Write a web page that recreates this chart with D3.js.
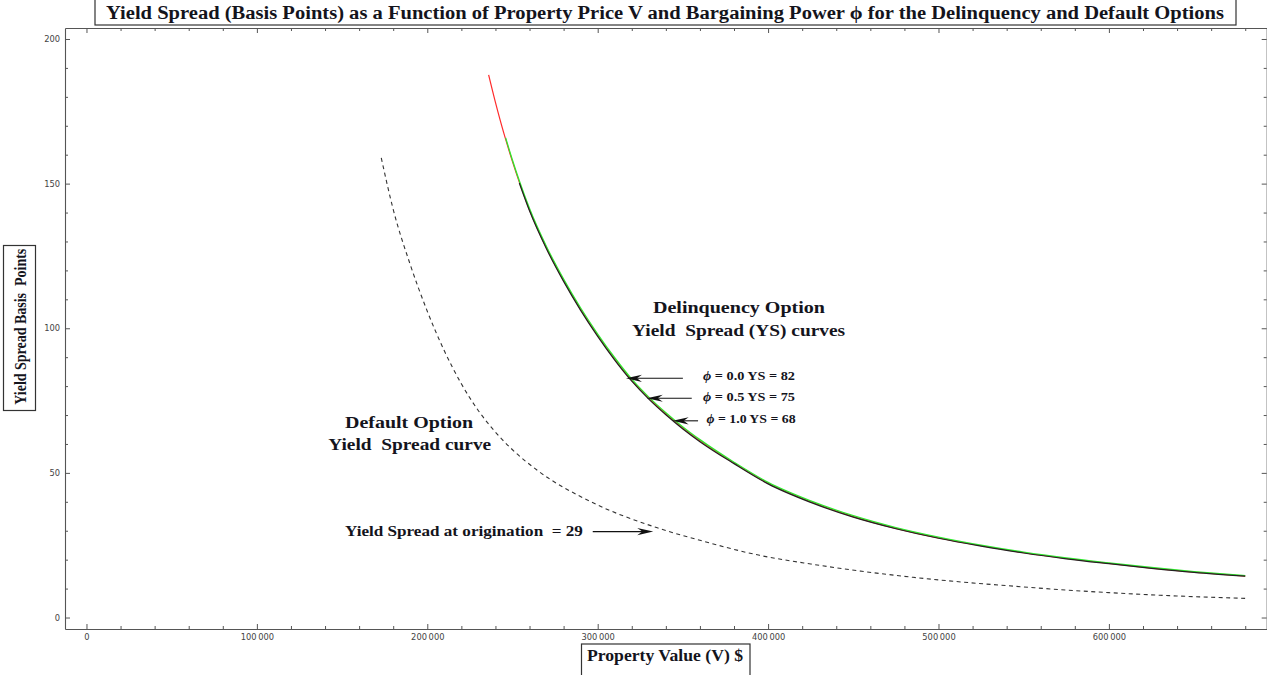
<!DOCTYPE html>
<html><head><meta charset="utf-8">
<script src="https://cdn.jsdelivr.net/npm/d3@7"></script>
<style>body{margin:0;background:#fff}svg{display:block}</style>
</head><body>
<svg id="chart" width="1267" height="675"></svg>
<script>
// ---------- data ----------
const xMajorTicks = [0, 100000, 200000, 300000, 400000, 500000, 600000];
const xTickLabels = ["0", "100\u2009000", "200\u2009000", "300\u2009000", "400\u2009000", "500\u2009000", "600\u2009000"];
const yMajorTicks = [0, 50, 100, 150, 200];
const yTickLabels = ["0", "50", "100", "150", "200"];

// Delinquency option curves (property value in $)
const propertyValue = [236000, 240000, 245000, 246000, 250000, 254000, 260000, 270000, 280000, 290000,
  300000, 310000, 320000, 330000, 340000, 350000, 360000, 380000, 400000, 425000,
  450000, 475000, 500000, 525000, 550000, 575000, 600000, 625000, 650000, 680000];
const ysPhi00 = [187.6, 178.1, 167.3, 165.3, 157.6, 150.5, 140.9, 127.7, 116.5, 106.5,
  97.5, 89.3, 82.0, 75.8, 70.4, 65.5, 61.1, 53.4, 46.4, 40.0,
  34.9, 30.8, 27.5, 24.8, 22.4, 20.4, 18.7, 17.1, 15.7, 14.3];
const ysPhi05 = [null, null, null, 165.8, 158.1, 151.0, 141.4, 128.2, 117.0, 107.0,
  98.0, 89.8, 82.4, 76.2, 70.8, 65.9, 61.5, 53.7, 46.7, 40.3,
  35.2, 31.1, 27.8, 25.0, 22.6, 20.6, 18.9, 17.3, 15.9, 14.5];
const ysPhi10 = [null, null, null, null, null, 150.2, 140.6, 127.4, 116.2, 106.2,
  97.2, 89.0, 81.7, 75.5, 70.1, 65.2, 60.8, 53.2, 46.2, 39.8,
  34.7, 30.7, 27.4, 24.7, 22.3, 20.3, 18.6, 17.0, 15.6, 14.3];

// Default option curve
const defaultValue = [173000, 180000, 190000, 200000, 210000, 220000, 230000, 240000, 250000, 265000,
  295000, 335000, 360000, 395000, 425000, 455000, 485000, 515000, 545000, 575000,
  600000, 630000, 680000];
const ysDefault = [158.9, 141.1, 122.0, 105.9, 92.2, 80.8, 71.5, 64.1, 58.0, 50.7,
  40.3, 31.0, 26.7, 21.5, 18.5, 16.0, 13.9, 12.2, 10.8, 9.5,
  8.6, 7.7, 6.6];

// annotations (data coordinates)
const titleText = "Yield Spread (Basis Points) as a Function of Property Price V and Bargaining Power \u03d5 for the Delinquency and Default Options";
const xLabelText = "Property Value (V) $";
const yLabelText = "Yield Spread Basis  Points";
const blockLabels = [
  {v: 382900, y: 107.2, text: "Delinquency Option", w: 172},
  {v: 382700, y: 99.4, text: "Yield  Spread (YS) curves", w: 213},
  {v: 189300, y: 67.7, text: "Default Option", w: 128},
  {v: 189700, y: 59.9, text: "Yield  Spread curve", w: 163}
];
const phiLabels = [
  {v: 388800, y: 83.5, phi: "0.0", ys: "82", w: 92},
  {v: 388800, y: 76.3, phi: "0.5", ys: "75", w: 92},
  {v: 390000, y: 68.8, phi: "1.0", ys: "68", w: 89}
];
const arrows = [
  {from: 350000, to: 316600, y: 82.7},
  {from: 355200, to: 328800, y: 75.8},
  {from: 358900, to: 344000, y: 68.0},
  {from: 297100, to: 332600, y: 29.7}
];
const originationLabel = {v: 221500, y: 30.0, text: "Yield Spread at origination  = 29", w: 238};

// ---------- drawing ----------
const svg = d3.select("#chart");
const L = 65, R = 1266.7, T = 28, B = 629;
const x = d3.scaleLinear().domain([-12600, 692600]).range([L, R]);
const y = d3.scaleLinear().domain([-3.97, 203.8]).range([B, T]);

const serif = "'Liberation Serif','Times New Roman',serif";
const frameColor = "#555";
const ink = "#14141c";

const xMinor = d3.range(0, 690000, 20000).filter(d => d % 100000 !== 0);
const yMinor = d3.range(0, 205, 10).filter(d => d % 50 !== 0);

function styleAxis(g) {
  g.select(".domain").attr("stroke", frameColor).attr("stroke-width", 1.1);
  g.selectAll(".tick line").attr("stroke", frameColor).attr("stroke-width", 1);
  g.selectAll(".tick text").attr("fill", "#444").attr("font-family", "'DejaVu Sans',sans-serif").attr("font-size", 8.3);
}

// bottom
svg.append("g").attr("transform", `translate(0,${B})`)
  .call(d3.axisBottom(x).tickValues(xMajorTicks).tickSize(-5).tickSizeOuter(0).tickPadding(5)
    .tickFormat((d, i) => xTickLabels[i])).call(styleAxis);
svg.append("g").attr("transform", `translate(0,${B})`)
  .call(d3.axisBottom(x).tickValues(xMinor).tickSize(-3).tickSizeOuter(0).tickFormat(""))
  .call(styleAxis).select(".domain").remove();
// top
svg.append("g").attr("transform", `translate(0,${T})`)
  .call(d3.axisTop(x).tickValues(xMajorTicks).tickSize(-5).tickSizeOuter(0).tickFormat("")).call(styleAxis);
svg.append("g").attr("transform", `translate(0,${T})`)
  .call(d3.axisTop(x).tickValues(xMinor).tickSize(-3).tickSizeOuter(0).tickFormat(""))
  .call(styleAxis).select(".domain").remove();
// left
svg.append("g").attr("transform", `translate(${L},0)`)
  .call(d3.axisLeft(y).tickValues(yMajorTicks).tickSize(-5).tickSizeOuter(0).tickPadding(5)
    .tickFormat((d, i) => yTickLabels[i])).call(styleAxis);
svg.append("g").attr("transform", `translate(${L},0)`)
  .call(d3.axisLeft(y).tickValues(yMinor).tickSize(-3).tickSizeOuter(0).tickFormat(""))
  .call(styleAxis).select(".domain").remove();
// right
svg.append("g").attr("transform", `translate(${R},0)`)
  .call(d3.axisRight(y).tickValues(yMajorTicks).tickSize(-5).tickSizeOuter(0).tickFormat("")).call(styleAxis);
svg.append("g").attr("transform", `translate(${R},0)`)
  .call(d3.axisRight(y).tickValues(yMinor).tickSize(-3).tickSizeOuter(0).tickFormat(""))
  .call(styleAxis).select(".domain").remove();

// curves
const line = d3.line().defined(d => d[1] != null).x(d => x(d[0])).y(d => y(d[1])).curve(d3.curveMonotoneX);
const plot = svg.append("g");
plot.append("path").datum(defaultValue.map((v, i) => [v, ysDefault[i]]))
  .attr("d", line).attr("fill", "none").attr("stroke", "#333").attr("stroke-width", 1.1).attr("stroke-dasharray", "4,3.5");
plot.append("path").datum(propertyValue.map((v, i) => [v, ysPhi00[i]]))
  .attr("d", line).attr("fill", "none").attr("stroke", "#ff2a2a").attr("stroke-width", 1.2);
plot.append("path").datum(propertyValue.map((v, i) => [v, ysPhi05[i]]))
  .attr("d", line).attr("fill", "none").attr("stroke", "#2ee82e").attr("stroke-width", 1.3);
plot.append("path").datum(propertyValue.map((v, i) => [v, ysPhi10[i]]))
  .attr("d", line).attr("fill", "none").attr("stroke", "#222").attr("stroke-width", 1.2);

// arrows
arrows.forEach(a => {
  const x1 = x(a.from), x2 = x(a.to), yy = y(a.y);
  const dir = x2 < x1 ? 1 : -1;
  svg.append("line").attr("x1", x1).attr("y1", yy).attr("x2", x2 + dir * 10).attr("y2", yy)
    .attr("stroke", "#111").attr("stroke-width", 1.1);
  svg.append("path")
    .attr("d", `M${x2},${yy} L${x2 + dir * 16},${yy - 3.6} L${x2 + dir * 11},${yy} L${x2 + dir * 16},${yy + 3.6} Z`)
    .attr("fill", "#111");
});

// text annotations
svg.selectAll(".blk").data(blockLabels).join("text")
  .attr("x", d => x(d.v)).attr("y", d => y(d.y)).attr("dy", "0.35em")
  .attr("text-anchor", "middle").attr("font-family", serif).attr("font-weight", "bold")
  .attr("font-size", 17).attr("fill", ink).style("white-space", "pre")
  .attr("textLength", d => d.w).attr("lengthAdjust", "spacingAndGlyphs").text(d => d.text);

const pl = svg.selectAll(".phi").data(phiLabels).join("text")
  .attr("x", d => x(d.v)).attr("y", d => y(d.y)).attr("dy", "0.35em")
  .attr("text-anchor", "middle").attr("font-family", serif).attr("font-weight", "bold")
  .attr("font-size", 12.5).attr("fill", ink)
  .attr("textLength", d => d.w).attr("lengthAdjust", "spacingAndGlyphs");
pl.append("tspan").attr("font-style", "italic").text("\u03d5");
pl.append("tspan").text(d => ` = ${d.phi}\u2009YS = ${d.ys}`);

svg.append("text").attr("x", x(originationLabel.v)).attr("y", y(originationLabel.y)).attr("dy", "0.35em")
  .attr("text-anchor", "middle").attr("font-family", serif).attr("font-weight", "bold")
  .attr("font-size", 14.5).attr("fill", ink).style("white-space", "pre")
  .attr("textLength", originationLabel.w).attr("lengthAdjust", "spacingAndGlyphs").text(originationLabel.text);

// title box
svg.append("rect").attr("x", 95).attr("y", -2).attr("width", 1141).attr("height", 27)
  .attr("fill", "#fff").attr("stroke", "#333").attr("stroke-width", 1.2);
svg.append("text").attr("x", 665).attr("y", 18.5).attr("text-anchor", "middle")
  .attr("font-family", serif).attr("font-weight", "bold").attr("font-size", 18).attr("fill", ink)
  .attr("textLength", 1118).attr("lengthAdjust", "spacingAndGlyphs").text(titleText);

// x label box
svg.append("rect").attr("x", 581.5).attr("y", 644).attr("width", 168.5).attr("height", 40)
  .attr("fill", "#fff").attr("stroke", "#333").attr("stroke-width", 1.2);
svg.append("text").attr("x", 665).attr("y", 660.5).attr("text-anchor", "middle")
  .attr("font-family", serif).attr("font-weight", "bold").attr("font-size", 17).attr("fill", ink)
  .attr("textLength", 156).attr("lengthAdjust", "spacingAndGlyphs").text(xLabelText);

// y label box
svg.append("rect").attr("x", 3.5).attr("y", 245.5).attr("width", 32).attr("height", 165)
  .attr("fill", "#fff").attr("stroke", "#333").attr("stroke-width", 1.2);
svg.append("text").attr("transform", "translate(25.5,326.7) rotate(-90)").attr("text-anchor", "middle")
  .attr("font-family", serif).attr("font-weight", "bold").attr("font-size", 16.5).attr("fill", ink)
  .style("white-space", "pre")
  .attr("textLength", 156).attr("lengthAdjust", "spacingAndGlyphs").text(yLabelText);
</script>
</body></html>
